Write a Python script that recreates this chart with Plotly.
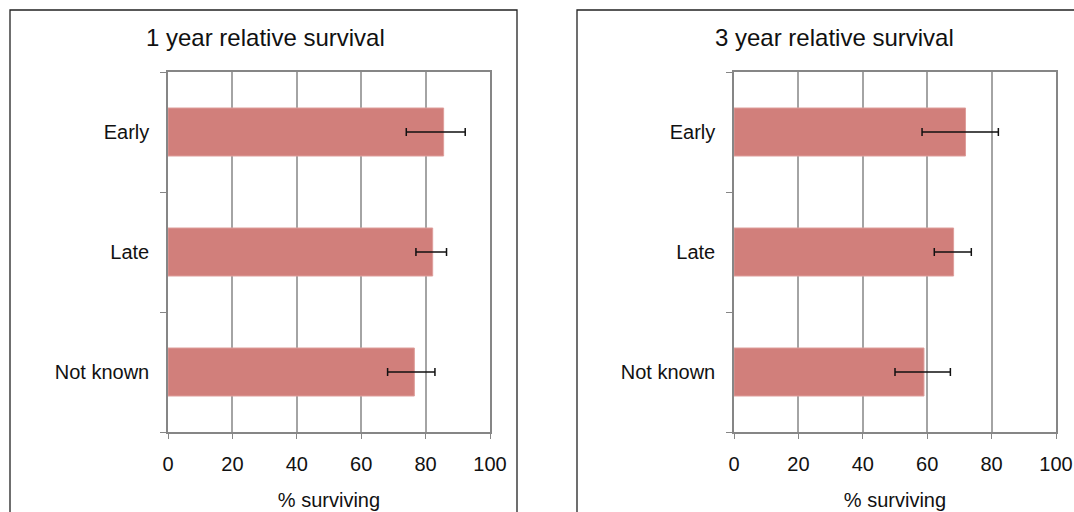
import plotly.graph_objects as go

categories = ["Early", "Late", "Not known"]
one_year = [85.6, 82.2, 76.5]
one_year_lo = [74.0, 77.0, 68.2]
one_year_hi = [92.3, 86.5, 82.9]
three_year = [71.9, 68.2, 59.0]
three_year_lo = [58.4, 62.2, 50.0]
three_year_hi = [82.1, 73.7, 67.2]
x_ticks = [0, 20, 40, 60, 80, 100]
titles = ["1 year relative survival", "3 year relative survival"]
x_title = "% surviving"

W, H = 1074, 512
FONT = "Liberation Sans, Arial, sans-serif"
BAR = "#D17F7B"
GRID = "#A4A4A4"
LINE = "#868686"

fig = go.Figure()

def add_panel(vals, lo, hi, xa, ya):
    fig.add_trace(go.Bar(
        y=categories, x=vals, orientation="h", width=0.4,
        marker=dict(color=BAR, line=dict(color="#DE9E9B", width=1)),
        error_x=dict(type="data", symmetric=False,
                     array=[h - v for h, v in zip(hi, vals)],
                     arrayminus=[v - l for v, l in zip(vals, lo)],
                     color="#111111", thickness=1.5, width=4),
        xaxis=xa, yaxis=ya, showlegend=False, hoverinfo="skip"))

add_panel(one_year, one_year_lo, one_year_hi, "x", "y")
add_panel(three_year, three_year_lo, three_year_hi, "x2", "y2")

ydom = [1 - 432 / H, 1 - 72 / H]
xdoms = [[168 / W, 490 / W], [734 / W, 1056 / W]]

xcommon = dict(range=[0, 100], tickvals=x_ticks, showgrid=True, gridcolor=GRID, gridwidth=1.5,
               showline=True, linecolor=LINE, linewidth=1.5, mirror=True,
               ticks="outside", ticklen=5, tickcolor=LINE, zeroline=False,
               tickfont=dict(family=FONT, size=20, color="#111111"),
               ticklabelstandoff=8, automargin=False,
               title=dict(text=x_title, font=dict(family=FONT, size=20, color="#111111"), standoff=19),
               fixedrange=True)
ycommon = dict(categoryorder="array", categoryarray=categories[::-1],
               showline=True, linecolor=LINE, linewidth=1.5, mirror=True,
               ticks="outside", ticklen=6, tickcolor=LINE, tickson="boundaries",
               showgrid=False, tickfont=dict(family=FONT, size=20, color="#111111"),
               ticklabelstandoff=13, automargin=False, fixedrange=True)

fig.update_layout(
    width=W, height=H, margin=dict(l=0, r=0, t=0, b=0, pad=0), autosize=False,
    paper_bgcolor="white", plot_bgcolor="white",
    xaxis=dict(domain=xdoms[0], anchor="y", **xcommon),
    yaxis=dict(domain=ydom, anchor="x", **ycommon),
    xaxis2=dict(domain=xdoms[1], anchor="y2", **xcommon),
    yaxis2=dict(domain=ydom, anchor="x2", **ycommon),
    shapes=[
        dict(type="rect", xref="paper", yref="paper", x0=10 / W, x1=517 / W, y0=-0.1, y1=1 - 10 / H,
             line=dict(color="#222222", width=1.3)),
        dict(type="rect", xref="paper", yref="paper", x0=577 / W, x1=1.1, y0=-0.1, y1=1 - 10 / H,
             line=dict(color="#222222", width=1.3)),
    ],
    annotations=[
        dict(text=titles[0], x=265 / W, y=1 - 37 / H, xref="paper", yref="paper", showarrow=False,
             xanchor="center", yanchor="middle", font=dict(family=FONT, size=24, color="#111111")),
        dict(text=titles[1], x=834 / W, y=1 - 37 / H, xref="paper", yref="paper", showarrow=False,
             xanchor="center", yanchor="middle", font=dict(family=FONT, size=24, color="#111111")),
    ],
)

post = ("document.body.style.margin='0';document.body.style.padding='0';"
        "document.body.style.overflow='hidden';"
        "Plotly.relayout('{plot_id}', {width: 1074, height: 512});")

fig.write_html("out.html", config={"responsive": False, "displayModeBar": False}, post_script=post)
